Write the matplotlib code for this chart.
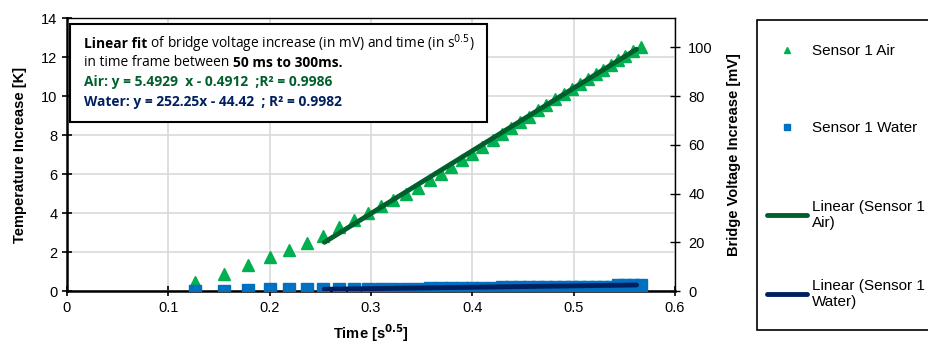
import matplotlib
matplotlib.use("Agg")
import matplotlib.pyplot as plt

# ---- data ----
time_sqrt = [0.126, 0.155, 0.179, 0.200, 0.219, 0.237, 0.253, 0.268, 0.283, 0.297,
             0.310, 0.322, 0.335, 0.346, 0.358, 0.369, 0.379, 0.390, 0.400, 0.410,
             0.420, 0.429, 0.438, 0.447, 0.456, 0.465, 0.473, 0.482, 0.490, 0.498,
             0.506, 0.514, 0.522, 0.529, 0.537, 0.544, 0.551, 0.559, 0.566]
air_temp = [0.48, 0.87, 1.33, 1.73, 2.10, 2.48, 2.82, 3.27, 3.64, 3.98,
            4.35, 4.68, 5.00, 5.30, 5.70, 6.00, 6.35, 6.70, 7.05, 7.40,
            7.75, 8.05, 8.35, 8.65, 8.95, 9.29, 9.55, 9.84, 10.09, 10.35,
            10.61, 10.86, 11.12, 11.35, 11.60, 11.83, 12.05, 12.31, 12.53]
water_temp = [0.00, 0.02, 0.04, 0.08, 0.10, 0.10, 0.10, 0.10, 0.12, 0.12,
              0.12, 0.12, 0.12, 0.12, 0.14, 0.14, 0.14, 0.14, 0.14, 0.14,
              0.14, 0.20, 0.20, 0.20, 0.20, 0.20, 0.20, 0.20, 0.20, 0.20,
              0.20, 0.20, 0.20, 0.20, 0.20, 0.30, 0.30, 0.30, 0.30]
fit_x = [0.254, 0.562]
air_fit = [2.50, 12.40]
water_fit = [0.09, 0.31]

x_ticks = [0, 0.1, 0.2, 0.3, 0.4, 0.5, 0.6]
x_tick_labels = ['0', '0.1', '0.2', '0.3', '0.4', '0.5', '0.6']
left_ticks = [0, 2, 4, 6, 8, 10, 12, 14]
right_ticks = [0, 20, 40, 60, 80, 100]

c_air = "#00B050"
c_air_fit = "#00602B"
c_water = "#0070C0"
c_water_fit = "#002060"

plt.rcParams['font.family'] = ['Liberation Sans', 'DejaVu Sans']

fig = plt.figure(figsize=(9.29, 3.44), dpi=100)
ax = fig.add_axes([0.0721, 0.154, 0.6545, 0.7935])

ax.plot(time_sqrt, air_temp, linestyle='none', marker='^', markersize=8,
        color=c_air, label='Sensor 1 Air', zorder=3)
ax.plot(time_sqrt, water_temp, linestyle='none', marker='s', markersize=8,
        color=c_water, label='Sensor 1 Water', zorder=3)
ax.plot(fit_x, air_fit, color=c_air_fit, lw=3.5, solid_capstyle='round',
        label='Linear (Sensor 1\nAir)', zorder=4)
ax.plot(fit_x, water_fit, color=c_water_fit, lw=3.5, solid_capstyle='round',
        label='Linear (Sensor 1\nWater)', zorder=4)

ax.set_xlim(0, 0.6)
ax.set_ylim(0, 14)
ax.set_xticks(x_ticks)
ax.set_xticklabels(x_tick_labels)
ax.set_yticks(left_ticks)
ax.grid(True, color='#D9D9D9', lw=1.2)
ax.set_axisbelow(True)
for s in ['left', 'bottom']:
    ax.spines[s].set_linewidth(1.8)
for s in ['top', 'right']:
    ax.spines[s].set_linewidth(1.0)
ax.tick_params(axis='both', direction='inout', length=7, width=1.2,
               labelsize=10.5, colors='black')
ax.tick_params(axis='x', pad=4)
ax.set_ylabel('Temperature Increase [K]', fontsize=10.5, fontweight='bold', labelpad=10)
ax.set_xlabel('Time [s$^{\\mathbf{0.5}}$]', fontsize=10.5, fontweight='bold', labelpad=5)

ax2 = ax.twinx()
ax2.set_ylim(0, 112)
ax2.set_yticks(right_ticks)
ax2.tick_params(axis='y', direction='inout', length=7, width=1.0, labelsize=10.5, pad=6)
ax2.set_ylabel('Bridge Voltage Increase [mV]', fontsize=10.5, fontweight='bold', labelpad=10)
for s in ax2.spines.values():
    s.set_visible(False)

# annotation box
tf = ['Open Sans', 'DejaVu Sans']
fs = 9.9
bx0, by0, bx1, by1 = 70/929, 1-122/344, 487/929, 1-24/344
fig.patches.append(plt.Rectangle((bx0, by0), bx1-bx0, by1-by0, transform=fig.transFigure,
                                 facecolor='white', edgecolor='black', lw=1.5, zorder=5))
tx = 84/929
r = fig.canvas.get_renderer()
b1 = fig.text(tx, 1-44/344, 'Linear fit', fontsize=fs, fontweight='bold', va='center',
              family=tf, zorder=6)
w = b1.get_window_extent(r).width / fig.bbox.width
fig.text(tx + w, 1-44/344, ' of bridge voltage increase (in mV) and time (in s$^{0.5}$)',
         fontsize=fs, va='center', family=tf, zorder=6)
n2 = fig.text(tx, 1-63/344, 'in time frame between ', fontsize=fs, va='center', family=tf, zorder=6)
w2 = n2.get_window_extent(r).width / fig.bbox.width
fig.text(tx + w2, 1-63/344, '50 ms to 300ms.', fontsize=fs, fontweight='bold', va='center',
         family=tf, zorder=6)
fig.text(tx, 1-82/344, 'Air: y = 5.4929  x - 0.4912  ;R² = 0.9986', fontsize=fs,
         fontweight='bold', color=c_air_fit, va='center', family=tf, zorder=6)
fig.text(tx, 1-102/344, 'Water: y = 252.25x - 44.42  ; R² = 0.9982', fontsize=fs,
         fontweight='bold', color=c_water_fit, va='center', family=tf, zorder=6)

# legend frame (drawn separately) + one legend row per entry
lx0, ly0, ly1 = 757/929, 1-330/344, 1-20/344
fig.patches.append(plt.Rectangle((lx0, ly0), 1.0 - lx0 + 0.01, ly1 - ly0,
                                 transform=fig.transFigure, facecolor='white',
                                 edgecolor='black', lw=1.2, zorder=1))
h, l = ax.get_legend_handles_labels()
row_centers_px = [51, 128, 215, 294]
for hh, ll, yc in zip(h, l, row_centers_px):
    fig.legend([hh], [ll], loc='center left', bbox_to_anchor=(767/929, 1 - yc/344),
               frameon=False, fontsize=11, handlelength=2.6, handletextpad=0.35,
               borderpad=0, borderaxespad=0, markerscale=0.6)

fig.savefig('out.png', dpi=100)
